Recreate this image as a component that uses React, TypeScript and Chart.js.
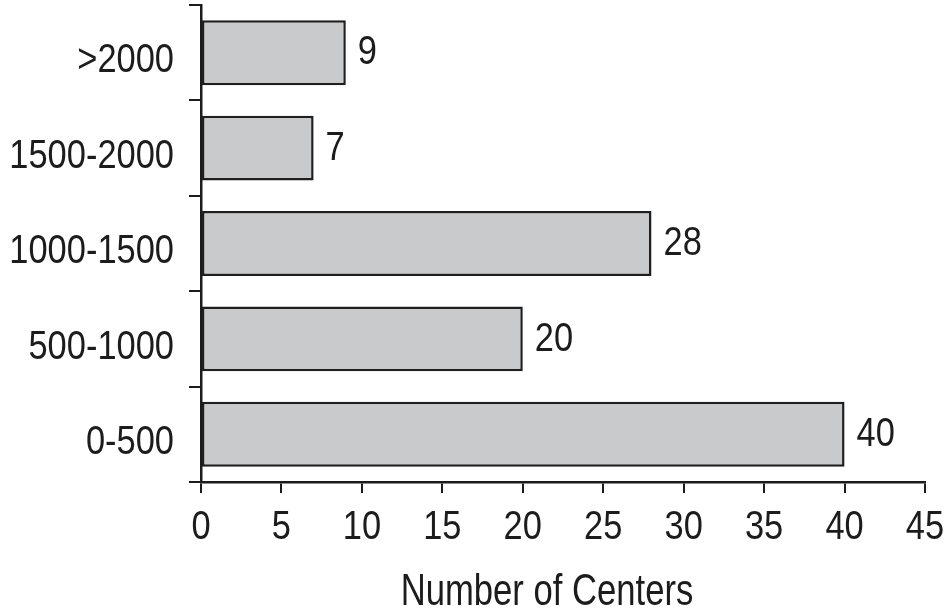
import React, { useEffect, useRef } from "react";
import { Chart, registerables } from "chart.js";

Chart.register(...registerables);

const categories = [">2000", "1500-2000", "1000-1500", "500-1000", "0-500"];
const centers = [9, 7, 28, 20, 40];
const xTicks = [0, 5, 10, 15, 20, 25, 30, 35, 40, 45];
const xTitle = "Number of Centers";

const FONT = "'Liberation Sans', Arial, sans-serif";
const INK = "#1c1c1c";

function condensedText(ctx: any, text: string, x: number, y: number, size: number, sx: number, align: string) {
  ctx.save();
  ctx.translate(x, y);
  ctx.scale(sx, 1);
  ctx.font = `${size}px ${FONT}`;
  ctx.textAlign = align;
  ctx.textBaseline = "alphabetic";
  ctx.fillStyle = INK;
  ctx.fillText(text, 0, 0);
  ctx.restore();
}

const textLayer = {
  id: "textLayer",
  afterDraw(chart: any) {
    const { ctx, chartArea } = chart;
    const xs = chart.scales.x;
    const ys = chart.scales.y;
    const size = 41;
    const sx = 0.84;
    const digitHalf = size * 0.716 / 2;
    // y category labels
    categories.forEach((c, i) => {
      const y = ys.getPixelForTick(i);
      condensedText(ctx, c, chartArea.left - 27, y + 5 + digitHalf, size, sx, "right");
    });
    // x tick labels
    xTicks.forEach((v) => {
      const x = xs.getPixelForValue(v);
      condensedText(ctx, String(v), x, chartArea.bottom + 42 + digitHalf, size, sx, "center");
    });
    // axis title
    condensedText(ctx, xTitle, (chartArea.left + chartArea.right) / 2 - 16, 605, 45, 0.77, "center");
    // value labels
    const meta = chart.getDatasetMeta(0);
    meta.data.forEach((bar: any, i: number) => {
      condensedText(ctx, String(centers[i]), bar.x + 12, bar.y - 3 + digitHalf, size, sx, "left");
    });
  },
};

export default function App() {
  const ref = useRef<HTMLCanvasElement>(null);
  useEffect(() => {
    document.body.style.margin = "0";
    const chart = new Chart(ref.current!, {
      type: "bar",
      data: {
        labels: categories,
        datasets: [
          {
            data: centers,
            backgroundColor: "#c9cacc",
            borderColor: "#1f1f1f",
            borderWidth: 2.5,
            borderSkipped: false,
            barPercentage: 0.68,
            categoryPercentage: 1,
          },
        ],
      },
      options: {
        indexAxis: "y",
        animation: false,
        responsive: false,
        devicePixelRatio: 1,
        layout: { padding: { top: 5, right: 20, left: 0, bottom: 0 } },
        plugins: { legend: { display: false }, tooltip: { enabled: false } },
        scales: {
          x: {
            type: "linear",
            min: 0,
            max: 45,
            afterBuildTicks: (scale: any) => {
              scale.ticks = xTicks.map((v) => ({ value: v }));
            },
            afterFit: (scale: any) => {
              scale.height = 133;
              scale.paddingLeft = 0;
              scale.paddingRight = 0;
            },
            grid: { drawOnChartArea: false, drawTicks: true, tickLength: 11, color: INK, lineWidth: 2 },
            border: { display: true, color: INK, width: 2.5 },
            ticks: { display: false, autoSkip: false },
          },
          y: {
            type: "category",
            offset: true,
            afterFit: (scale: any) => {
              scale.width = 201;
              scale.paddingTop = 0;
              scale.paddingBottom = 0;
            },
            grid: { offset: true, drawOnChartArea: false, drawTicks: true, tickLength: 12, color: INK, lineWidth: 2 },
            border: { display: true, color: INK, width: 2.5 },
            ticks: { display: false },
          },
        },
      },
      plugins: [textLayer],
    } as any);
    return () => chart.destroy();
  }, []);
  return (
    <div style={{ position: "absolute", left: 0, top: 0, width: 945, height: 615, background: "#fff" }}>
      <canvas ref={ref} width={945} height={615} />
    </div>
  );
}
